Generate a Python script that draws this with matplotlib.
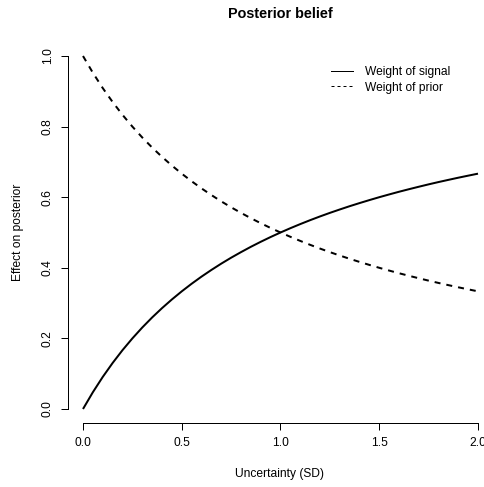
import matplotlib
matplotlib.use("Agg")
import matplotlib.pyplot as plt
from matplotlib.lines import Line2D

plt.rcParams['font.family'] = ['Liberation Sans', 'DejaVu Sans']

# Uncertainty (SD) grid and the weights of signal and prior on the posterior
sd = [0.00, 0.05, 0.10, 0.15, 0.20, 0.25, 0.30, 0.35, 0.40, 0.45,
      0.50, 0.55, 0.60, 0.65, 0.70, 0.75, 0.80, 0.85, 0.90, 0.95,
      1.00, 1.05, 1.10, 1.15, 1.20, 1.25, 1.30, 1.35, 1.40, 1.45,
      1.50, 1.55, 1.60, 1.65, 1.70, 1.75, 1.80, 1.85, 1.90, 1.95, 2.00]
weight_signal = [0.0, 0.0476, 0.0909, 0.1304, 0.1667, 0.2, 0.2308, 0.2593, 0.2857, 0.3103,
                 0.3333, 0.3548, 0.375, 0.3939, 0.4118, 0.4286, 0.4444, 0.4595, 0.4737, 0.4872,
                 0.5, 0.5122, 0.5238, 0.5349, 0.5455, 0.5556, 0.5652, 0.5745, 0.5833, 0.5918,
                 0.6, 0.6078, 0.6154, 0.6226, 0.6296, 0.6364, 0.6429, 0.6491, 0.6552, 0.661, 0.6667]
weight_prior = [1.0, 0.9524, 0.9091, 0.8696, 0.8333, 0.8, 0.7692, 0.7407, 0.7143, 0.6897,
                0.6667, 0.6452, 0.625, 0.6061, 0.5882, 0.5714, 0.5556, 0.5405, 0.5263, 0.5128,
                0.5, 0.4878, 0.4762, 0.4651, 0.4545, 0.4444, 0.4348, 0.4255, 0.4167, 0.4082,
                0.4, 0.3922, 0.3846, 0.3774, 0.3704, 0.3636, 0.3571, 0.3509, 0.3448, 0.339, 0.3333]

x_ticks = [0.0, 0.5, 1.0, 1.5, 2.0]
y_ticks = [0.0, 0.2, 0.4, 0.6, 0.8, 1.0]

W, H = 485, 487
PX = 72 / 100          # points per pixel at 100 dpi
FS = 12 * PX           # base text size
fig = plt.figure(figsize=(W / 100, H / 100), dpi=100)
ax = fig.add_axes([83 / W, 1 - 409 / H, (478 - 83) / W, (409 - 56) / H])

ax.plot(sd, weight_signal, color='black', lw=2 * PX, solid_capstyle='butt',
        clip_on=False)
ax.plot(sd, weight_prior, color='black', lw=2 * PX, linestyle=(0, (3, 3)),
        dash_capstyle='butt', clip_on=False)

ax.set_xlim(0, 2)
ax.set_ylim(0, 1)

for s in ('top', 'right'):
    ax.spines[s].set_visible(False)
ax.spines['left'].set_position(('outward', 15 * PX))
ax.spines['bottom'].set_position(('outward', 14 * PX))
for s in ('left', 'bottom'):
    ax.spines[s].set_linewidth(PX)

ax.set_xticks(x_ticks)
ax.set_xticklabels([f"{v:.1f}" for v in x_ticks])
ax.set_yticks(y_ticks)
ax.set_yticklabels([f"{v:.1f}" for v in y_ticks], rotation=90, va='center')
ax.tick_params(axis='both', direction='out', length=7 * PX, width=PX,
               labelsize=FS, colors='black')
ax.tick_params(axis='x', pad=7 * PX)
ax.tick_params(axis='y', pad=7 * PX)

fig.text(280 / W, 1 - 474 / H, 'Uncertainty (SD)', ha='center', va='center', fontsize=FS)
fig.text(18 / W, 1 - 232 / H, 'Effect on posterior', ha='center', va='center',
         rotation=90, fontsize=FS)
fig.text(280 / W, 1 - 14 / H, 'Posterior belief', ha='center', va='center',
         fontsize=1.2 * FS, fontweight='bold')

handles = [Line2D([], [], color='black', lw=PX),
           Line2D([], [], color='black', lw=PX, linestyle=(0, (3, 3)))]
ax.legend(handles, ['Weight of signal', 'Weight of prior'],
          loc='upper left', bbox_to_anchor=(331 / W, 1 - 66 / H),
          bbox_transform=fig.transFigure, frameon=False, fontsize=FS,
          handlelength=22 / 12, handletextpad=1.0, labelspacing=0.3,
          borderaxespad=0, borderpad=0)

fig.savefig('out.png', dpi=100)
